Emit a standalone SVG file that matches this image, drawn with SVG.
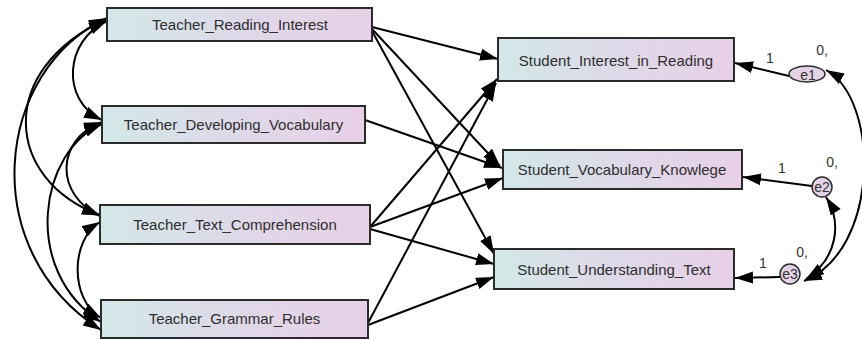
<svg xmlns="http://www.w3.org/2000/svg" width="862" height="340" viewBox="0 0 862 340">
<style>
.box{stroke:#2b2b2b;stroke-width:2;fill:url(#g)}
.lbl{font-family:"Liberation Sans",Arial,sans-serif;font-size:15px;fill:#2e2e2e;text-anchor:middle}
.sm{font-family:"Liberation Sans",Arial,sans-serif;font-size:14px;fill:#333;text-anchor:middle}
.ln{stroke:#000;stroke-width:2;fill:none;marker-end:url(#ah)}
.cv{stroke:#000;stroke-width:2;fill:none;marker-end:url(#ah);marker-start:url(#ah)}
.err{stroke:#2b2b2b;stroke-width:1.5;fill:#e4d2e6}
</style>
<defs>
<linearGradient id="g" x1="0" y1="0" x2="1" y2="0">
<stop offset="0" stop-color="#d3e8e8"/>
<stop offset="0.5" stop-color="#ded9e8"/>
<stop offset="1" stop-color="#e8d0e6"/>
</linearGradient>
<marker id="ah" markerUnits="userSpaceOnUse" markerWidth="19" markerHeight="13" refX="18" refY="6" orient="auto-start-reverse">
<path d="M0,0 L18,6 L0,12 z" fill="#000"/>
</marker>
</defs>
<rect width="862" height="340" fill="#fff"/>
<g id="connectors">
<path class="ln" d="M372,27 L498,59"/>
<path class="ln" d="M372,29 L500,166"/>
<path class="ln" d="M372,31 L494,254"/>
<path class="ln" d="M365,120 L502,168"/>
<path class="ln" d="M370,227 L497,79"/>
<path class="ln" d="M370,227 L503,178"/>
<path class="ln" d="M370,229 L494,264"/>
<path class="ln" d="M368,323 L496,83"/>
<path class="ln" d="M368,325 L494,277"/>
<path class="ln" d="M789,76 L735,63"/>
<path class="ln" d="M812,186 L743,177"/>
<path class="ln" d="M780,277 L735,278"/>
<path class="cv" d="M107,18 C-5,70 -25,250 101,330"/>
<path class="cv" d="M107,19 C-5,70 5,180 100,215"/>
<path class="cv" d="M107,21 C65,40 60,100 102,120"/>
<path class="cv" d="M102,122 C55,140 55,195 100,216"/>
<path class="cv" d="M102,124 C40,150 20,270 101,322"/>
<path class="cv" d="M100,222 C70,240 70,300 101,318"/>
<path class="cv" d="M826,70 C880,100 880,250 804,281"/>
<path class="cv" d="M826,197 C842,222 838,258 806,279"/>
</g>
<g id="TRI"><rect class="box" x="107" y="8" width="265" height="33"/><text class="lbl" x="240" y="30">Teacher_Reading_Interest</text></g>
<g id="TDV"><rect class="box" x="102" y="106" width="263" height="37"/><text class="lbl" x="233.5" y="130">Teacher_Developing_Vocabulary</text></g>
<g id="TTC"><rect class="box" x="100" y="205" width="270" height="39"/><text class="lbl" x="235" y="230">Teacher_Text_Comprehension</text></g>
<g id="TGR"><rect class="box" x="101" y="300" width="267" height="38"/><text class="lbl" x="234.5" y="324">Teacher_Grammar_Rules</text></g>
<g id="SIR"><rect class="box" x="498" y="38" width="236" height="43"/><text class="lbl" x="616" y="66">Student_Interest_in_Reading</text></g>
<g id="SVK"><rect class="box" x="503" y="150" width="239" height="39"/><text class="lbl" x="622" y="175">Student_Vocabulary_Knowlege</text></g>
<g id="SUT"><rect class="box" x="494" y="249" width="240" height="40"/><text class="lbl" x="614" y="275">Student_Understanding_Text</text></g>
<g id="e1"><ellipse class="err" cx="807" cy="74" rx="18" ry="8"/><text class="sm" x="808" y="80">e1</text><text class="sm" x="770" y="63">1</text><text class="sm" x="822" y="55">0,</text></g>
<g id="e2"><circle class="err" cx="822" cy="187" r="10"/><text class="sm" x="822" y="192">e2</text><text class="sm" x="782" y="173">1</text><text class="sm" x="832" y="167">0,</text></g>
<g id="e3"><circle class="err" cx="790" cy="274" r="10"/><text class="sm" x="790" y="279">e3</text><text class="sm" x="763" y="268">1</text><text class="sm" x="802" y="257">0,</text></g>
</svg>
